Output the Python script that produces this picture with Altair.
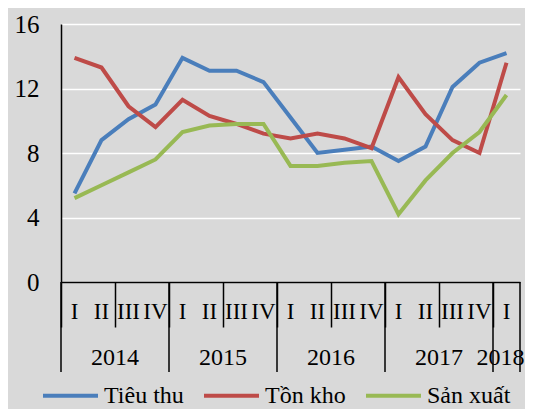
import altair as alt
import pandas as pd

# ---- data ----
quarters = ["I", "II", "III", "IV"] * 4 + ["I"]
years = ["2014", "2015", "2016", "2017", "2018"]
year_quarter_counts = [4, 4, 4, 4, 1]

series_names = ["Tiêu thu", "Tồn kho", "Sản xuất"]
tieu_thu = [5.5, 8.8, 10.1, 11.0, 13.9, 13.1, 13.1, 12.4, 10.2, 8.0, 8.2, 8.4, 7.5, 8.4, 12.1, 13.6, 14.2]
ton_kho = [13.9, 13.3, 10.9, 9.6, 11.3, 10.3, 9.8, 9.2, 8.9, 9.2, 8.9, 8.3, 12.7, 10.4, 8.8, 8.0, 13.6]
san_xuat = [5.2, 6.0, 6.8, 7.6, 9.3, 9.7, 9.8, 9.8, 7.2, 7.2, 7.4, 7.5, 4.2, 6.3, 8.0, 9.3, 11.6]
colors = ["#4A7EBB", "#BE4B48", "#98B954"]
y_ticks = [0, 4, 8, 12, 16]

# ---- tables ----
n = len(quarters)
rows = []
for name, vals in zip(series_names, [tieu_thu, ton_kho, san_xuat]):
    for i, v in enumerate(vals):
        rows.append({"pos": i + 0.5, "value": v, "series": name})
df = pd.DataFrame(rows)

qdf = pd.DataFrame({"pos": [i + 0.5 for i in range(n)], "label": quarters})

starts = []
s = 0
for c in year_quarter_counts:
    starts.append(s)
    s += c
ydf = pd.DataFrame({"pos": [st + c / 2 for st, c in zip(starts, year_quarter_counts)], "label": years})
bdf = pd.DataFrame({"pos": starts + [n]})

W, H = 459, 258
FONT = "Liberation Serif"

xscale = alt.Scale(domain=[0, n], nice=False, zero=False)

lines = alt.Chart(df).mark_line(strokeWidth=4).encode(
    x=alt.X("pos:Q", scale=xscale,
            axis=alt.Axis(values=list(range(n + 1)), labels=False, grid=False,
                          tickSize=45, tickColor="black", tickWidth=1.5,
                          domainColor="black", domainWidth=1.5, title=None)),
    y=alt.Y("value:Q", scale=alt.Scale(domain=[0, 16], nice=False),
            axis=alt.Axis(values=y_ticks, grid=True, gridColor="white", gridWidth=1.5,
                          ticks=False, tickSize=0, labelPadding=22, domainColor="black",
                          domainWidth=1.5, labelFont=FONT, labelFontSize=25,
                          labelColor="black", title=None)),
    color=alt.Color("series:N", scale=alt.Scale(domain=series_names, range=colors),
                    sort=series_names,
                    legend=alt.Legend(title=None, orient="none", legendX=-20, legendY=342,
                                      direction="horizontal", symbolType="stroke",
                                      symbolSize=3025, symbolStrokeWidth=4,
                                      labelFont=FONT, labelFontSize=24, labelColor="black",
                                      columnPadding=12, labelOffset=4, padding=0,
                                      labelLimit=200)),
    order=alt.Order("pos:Q"),
)

qlabels = alt.Chart(qdf).mark_text(font=FONT, fontSize=23, color="black",
                                   baseline="middle", align="center").encode(
    x=alt.X("pos:Q", scale=xscale),
    y=alt.value(288),
    text="label:N",
)

ylabels = alt.Chart(ydf).mark_text(font=FONT, fontSize=24, color="black",
                                   baseline="middle", align="center").encode(
    x=alt.X("pos:Q", scale=xscale),
    y=alt.value(334),
    text="label:N",
).transform_filter(alt.datum.label != years[-1])

ylabel_last = alt.Chart(ydf).mark_text(font=FONT, fontSize=24, color="black",
                                       baseline="middle", align="center", dx=-6).encode(
    x=alt.X("pos:Q", scale=xscale),
    y=alt.value(334),
    text="label:N",
).transform_filter(alt.datum.label == years[-1])

bounds = alt.Chart(bdf).mark_rule(color="black", strokeWidth=1.5).encode(
    x=alt.X("pos:Q", scale=xscale),
    y=alt.value(H),
    y2=alt.value(348),
)

chart = alt.layer(lines, bounds, qlabels, ylabels, ylabel_last).properties(
    width=W, height=H, background="#D9D9D9",
    padding={"left": 53, "top": 16, "right": 5, "bottom": 127},
    autosize=alt.AutoSizeParams(type="none"),
).configure(font=FONT).configure_view(stroke=None).configure_legend(
    labelFont=FONT).configure_axis(labelFont=FONT)

chart.save("out.html", embed_options={"renderer": "svg", "actions": False})
